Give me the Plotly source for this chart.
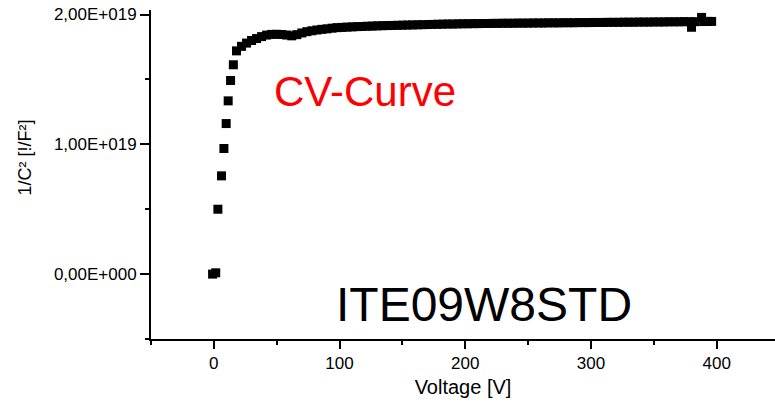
import plotly.graph_objects as go

# Voltage [V]
voltage = [-1, 1.5, 3.2, 6.1, 8.0, 9.8, 11.4, 13.3, 15.5,
           18, 22, 26, 30, 34, 38, 42, 46, 50, 54, 58, 62, 66, 70, 74, 78,
           82, 86, 90, 94, 98, 102, 106, 110, 114, 118, 122, 126, 130, 134,
           138, 142, 146, 150, 154, 158, 162, 166, 170, 174, 178, 182, 186,
           190, 194, 198, 202, 206, 210, 214, 218, 222, 226, 230, 234, 238,
           242, 246, 250, 254, 258, 262, 266, 270, 274, 278, 282, 286, 290,
           294, 298, 302, 306, 310, 314, 318, 322, 326, 330, 334, 338, 342,
           346, 350, 354, 358, 362, 366, 370, 374, 378, 380, 383, 388, 390,
           393, 396]
# 1/C^2 in units of 1E18 [1/F^2]
inv_c2_e18 = [0.0, 0.1, 5.0, 7.57, 9.68, 11.6, 13.35, 14.92, 16.13,
              17.2, 17.55, 17.8, 18.0, 18.15, 18.3, 18.42, 18.47, 18.48, 18.46,
              18.42, 18.36, 18.45, 18.58, 18.68, 18.75,
              18.81, 18.86, 18.9, 18.95, 18.99, 19.01, 19.03, 19.05, 19.07,
              19.08, 19.10, 19.11, 19.13, 19.14,
              19.15, 19.16, 19.17, 19.18, 19.19, 19.2, 19.21, 19.22, 19.23,
              19.24, 19.25, 19.26, 19.27,
              19.27, 19.28, 19.29, 19.29, 19.30, 19.30, 19.31, 19.31, 19.32,
              19.32, 19.33, 19.33, 19.33,
              19.34, 19.34, 19.34, 19.35, 19.35, 19.35, 19.36, 19.36, 19.36,
              19.37, 19.37, 19.37, 19.38,
              19.38, 19.38, 19.39, 19.39, 19.39, 19.40, 19.40, 19.40, 19.41,
              19.41, 19.41, 19.42, 19.42,
              19.42, 19.43, 19.43, 19.43, 19.44, 19.44, 19.44, 19.45, 19.45,
              19.02, 19.45, 19.78, 19.46,
              19.47, 19.47]

y_tickvals = [0, 1e19, 2e19]
y_ticktext = ["0,00E+000", "1,00E+019", "2,00E+019"]
x_tickvals = [0, 100, 200, 300, 400]
x_ticktext = ["0", "100", "200", "300", "400"]

inv_c2 = [v * 1e18 for v in inv_c2_e18]

FONT = "Arial, 'Liberation Sans', sans-serif"

fig = go.Figure()
fig.add_trace(go.Scatter(
    x=voltage, y=inv_c2, mode="markers",
    marker=dict(symbol="square", size=9, color="black", line=dict(width=0)),
    showlegend=False,
))

fig.update_layout(
    width=775, height=404,
    margin=dict(l=151, r=0, t=10, b=65),
    paper_bgcolor="white", plot_bgcolor="white",
    font=dict(family=FONT, color="black", size=17),
)

fig.update_xaxes(
    range=[-50, 446.4],
    showgrid=False, zeroline=False,
    showline=True, linecolor="black", linewidth=2,
    ticks="outside", ticklen=8, tickwidth=2, tickcolor="black",
    tickvals=x_tickvals, ticktext=x_ticktext,
    tickfont=dict(size=17, family=FONT),
    minor=dict(ticks="outside", ticklen=4, tickwidth=2, tickcolor="black",
               tickvals=[-50, 50, 150, 250, 350]),
    title=dict(text="Voltage [V]", font=dict(size=20, family=FONT), standoff=8),
)
fig.update_yaxes(
    range=[-0.5e19, 2.035e19],
    showgrid=False, zeroline=False,
    showline=True, linecolor="black", linewidth=2,
    ticks="outside", ticklen=9, tickwidth=2, tickcolor="black",
    tickvals=y_tickvals, ticktext=y_ticktext,
    tickfont=dict(size=17, family=FONT),
    minor=dict(ticks="outside", ticklen=4, tickwidth=2, tickcolor="black",
               tickvals=[-0.5e19, 0.5e19, 1.5e19]),
)

fig.add_annotation(
    text="1/C² [!/F²]", textangle=-90,
    xref="paper", yref="paper", x=-151 / 624, y=(340 - 158) / 330,
    xanchor="left", yanchor="middle", xshift=13, showarrow=False,
    font=dict(size=18, family=FONT, color="black"),
)
fig.add_annotation(
    text="CV-Curve", x=120, y=1.41e19, xref="x", yref="y",
    showarrow=False, xanchor="center", yanchor="middle",
    font=dict(size=42, family=FONT, color="#ff0000"),
)
fig.add_annotation(
    text="ITE09W8STD", x=215, y=-0.235e19, xref="x", yref="y",
    showarrow=False, xanchor="center", yanchor="middle",
    font=dict(size=48, family=FONT, color="black"),
)

fig.write_html("out.html")
